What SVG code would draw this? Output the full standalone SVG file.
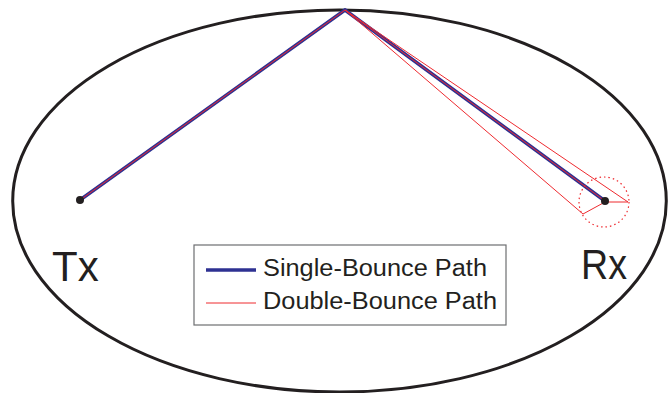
<svg xmlns="http://www.w3.org/2000/svg" width="668" height="393" viewBox="0 0 668 393">
<style>
.blue{stroke:#2e3192;stroke-width:3.5;fill:none;stroke-linecap:round}
.red{stroke:#ee2a2f;stroke-width:1;fill:none}
.lbl{font-family:"Liberation Sans",Arial,sans-serif;fill:#231f20}
</style>
<rect width="668" height="393" fill="#ffffff"/>
<g id="room">
<ellipse cx="339.5" cy="201" rx="326.8" ry="191" fill="none" stroke="#231f20" stroke-width="3"/>
</g>
<g id="connectors">
<line class="blue" x1="80" y1="200" x2="345" y2="10" stroke-width="2.6"/>
<line class="blue" x1="345" y1="10" x2="605" y2="201"/>
<polyline class="red" points="80,200 345,10 605,201"/>
<polyline class="red" points="345,10 628,202 605,202"/>
<polyline class="red" points="345,10 583,214 605,202"/>
<circle cx="604" cy="202" r="25" fill="none" stroke="#ee2a2f" stroke-width="1.2" stroke-dasharray="1.5 3"/>
</g>
<g id="tx">
<circle cx="80" cy="200" r="4" fill="#231f20"/>
<text class="lbl" x="52" y="281" font-size="42">Tx</text>
</g>
<g id="rx">
<circle cx="605" cy="201" r="4" fill="#231f20"/>
<text class="lbl" x="581" y="279" font-size="42" textLength="46" lengthAdjust="spacingAndGlyphs">Rx</text>
</g>
<g id="legend">
<rect x="194" y="245" width="312" height="80" fill="#ffffff" stroke="#6d6e71" stroke-width="1.2"/>
<line x1="206" y1="270" x2="256" y2="270" stroke="#2e3192" stroke-width="3.5"/>
<line x1="206" y1="303" x2="256" y2="303" stroke="#ee2a2f" stroke-width="1"/>
<text class="lbl" x="263" y="276" font-size="23.5" textLength="224" lengthAdjust="spacingAndGlyphs">Single-Bounce Path</text>
<text class="lbl" x="263" y="309" font-size="23.5" textLength="234" lengthAdjust="spacingAndGlyphs">Double-Bounce Path</text>
</g>
</svg>
